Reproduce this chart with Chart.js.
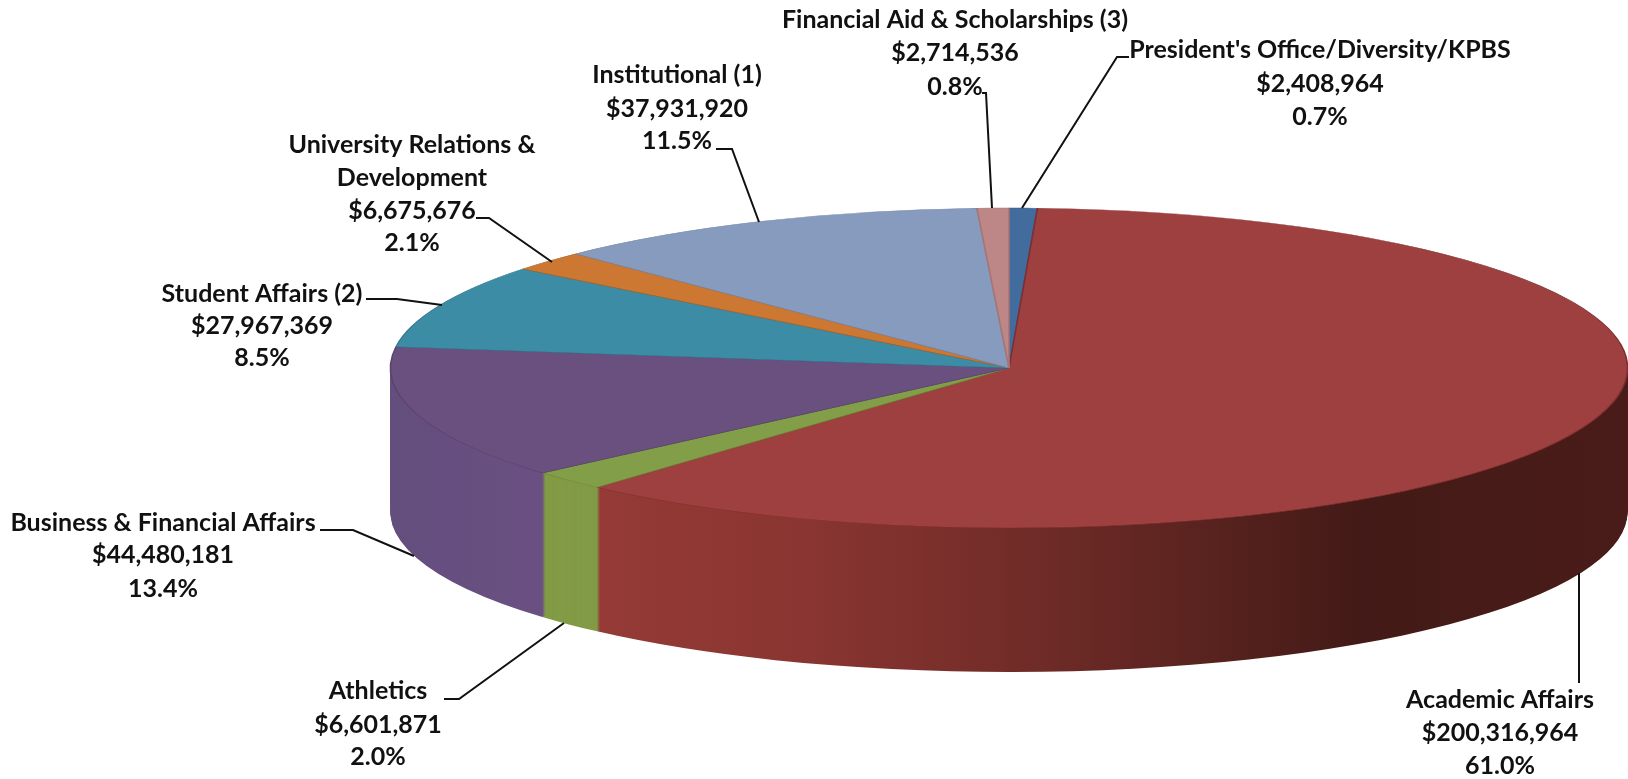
<!DOCTYPE html>
<html>
<head>
<meta charset="utf-8">
<title>Budget by division</title>
<script src="https://cdn.jsdelivr.net/npm/chart.js@4"></script>
<style>
  html, body { margin: 0; padding: 0; background: #fff; overflow: hidden; }
  canvas { display: block; }
</style>
</head>
<body>
<canvas id="budgetPie" width="1628" height="779"></canvas>
<script>
// clockwise from 12 o'clock
const categories = [
    "President's Office/Diversity/KPBS",
    "Academic Affairs",
    "Athletics",
    "Business & Financial Affairs",
    "Student Affairs (2)",
    "University Relations &|Development",
    "Institutional (1)",
    "Financial Aid & Scholarships (3)"
];
const budgetValues = [2408964, 200316964, 6601871, 44480181, 27967369, 6675676, 37931920, 2714536];
const percentLabels = ["0.7%", "61.0%", "2.0%", "13.4%", "8.5%", "2.1%", "11.5%", "0.8%"];

const topColors = ["#426b9e", "#9e4040", "#829e48", "#69507f", "#3c8ca5", "#cc7832", "#879bbe", "#be8787"];
const edgeColors = ["#365a88", "#7e2f2f", "#6d8a36", "#594470", "#327a90", "#a9622a", "#7486aa", "#a87474"];
// wall shading, [page x, colour] stops
const wallStops = [
    [[0, "#365a88"]],
    [[592, "#953a37"], [800, "#8a3531"], [1000, "#742d29"], [1200, "#5a231f"], [1360, "#431a17"], [1627, "#4a1c19"]],
    [[0, "#829b46"]],
    [[390, "#634e7e"], [540, "#6a5082"]],
    [[0, "#327a90"]],
    [[0, "#a9622a"]],
    [[0, "#7486aa"]],
    [[0, "#a87474"]]
];

// pie face on the page
const CX = 1009, CY = 368, RX = 618.5, RY = 160, DEPTH = 144;

// text centre x, y of each line, leader polyline
const labelLayout = [
    { x: 1320, y: [50, 84, 117], leader: [[1129, 57], [1117, 57], [1022, 208]] },
    { x: 1500, y: [700, 733, 766], leader: [[1579, 573], [1579, 683]] },
    { x: 378, y: [691, 725, 757], leader: [[444, 699], [459, 699], [564, 623]] },
    { x: 163, y: [523, 555, 589], leader: [[320, 530], [353, 530], [414, 556]] },
    { x: 262, y: [294, 326, 358], leader: [[366, 299], [397, 299], [442, 305]] },
    { x: 412, y: [145, 178, 211, 243], leader: [[476, 218], [489, 218], [552, 262]] },
    { x: 677, y: [75, 109, 141], leader: [[716, 149], [732, 149], [759, 222]] },
    { x: 955, y: [20, 53, 87], leader: [[982, 93], [986, 93], [992, 208]] }
];

function toPage(ctx, arc, drop) {
    ctx.translate(CX, CY + drop);
    ctx.scale(RX / arc.outerRadius, RY / arc.outerRadius);
    ctx.translate(-arc.x, -arc.y);
}

function wallFill(ctx, arc, stops) {
    if (stops.length === 1) return stops[0][1];
    const sx = RX / arc.outerRadius;
    const x0 = stops[0][0], x1 = stops[stops.length - 1][0];
    const g = ctx.createLinearGradient(arc.x + (x0 - CX) / sx, 0, arc.x + (x1 - CX) / sx, 0);
    stops.forEach(s => g.addColorStop((s[0] - x0) / (x1 - x0), s[1]));
    return g;
}

const squashPie = {
    id: 'squashPie',
    beforeDatasetsDraw(chart) {
        const ctx = chart.ctx;
        const arcs = chart.getDatasetMeta(0).data;
        // the wall: same arcs stacked downwards, darkest layer first
        for (let d = DEPTH; d >= 1; d--) {
            ctx.save();
            toPage(ctx, arcs[0], d);
            arcs.forEach((arc, i) => {
                const saved = arc.options;
                arc.options = Object.assign({}, saved, {
                    backgroundColor: wallFill(ctx, arc, wallStops[i]),
                    borderWidth: 0
                });
                arc.draw(ctx);
                arc.options = saved;
            });
            ctx.restore();
        }
        ctx.save();
        toPage(ctx, arcs[0], 0);
    },
    afterDatasetsDraw(chart) {
        chart.ctx.restore();
    },
    afterDraw(chart) {
        const ctx = chart.ctx;
        ctx.save();
        ctx.strokeStyle = '#111';
        ctx.lineWidth = 2;
        ctx.fillStyle = '#111';
        ctx.font = 'bold 25px Lato';
        ctx.textAlign = 'center';
        ctx.textBaseline = 'middle';
        categories.forEach((name, i) => {
            const spot = labelLayout[i];
            const lines = name.split('|').concat(['$' + budgetValues[i].toLocaleString('en-US'), percentLabels[i]]);
            lines.forEach((t, k) => ctx.fillText(t, spot.x, spot.y[k]));
            ctx.beginPath();
            spot.leader.forEach((p, k) => k ? ctx.lineTo(p[0], p[1]) : ctx.moveTo(p[0], p[1]));
            ctx.stroke();
        });
        ctx.restore();
    }
};

var budgetChart = new Chart(document.getElementById('budgetPie').getContext('2d'), {
    type: 'pie',
    plugins: [squashPie],
    data: {
        labels: categories,
        datasets: [{
            data: budgetValues,
            backgroundColor: topColors,
            borderColor: edgeColors,
            borderWidth: 1,
            clip: false
        }]
    },
    options: {
        responsive: false,
        animation: false,
        layout: { padding: 0 },
        plugins: {
            legend: { display: false },
            tooltip: { enabled: false }
        }
    }
});
</script>
</body>
</html>
